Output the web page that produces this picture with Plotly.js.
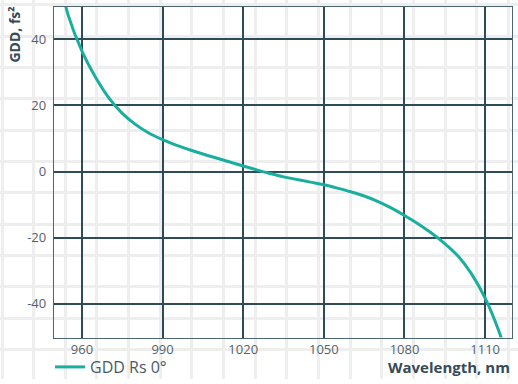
<!DOCTYPE html>
<html>
<head>
<meta charset="utf-8">
<script src="https://cdn.plot.ly/plotly-3.0.1.min.js"></script>
<style>html,body{margin:0;padding:0;background:#fff;}#chart{width:518px;height:384px;}</style>
</head>
<body>
<div id="chart"></div>
<script>
// Wavelength (nm)
const wavelength = [953, 955, 960, 965, 970, 975, 980, 985, 990, 995, 1000, 1005, 1010, 1015, 1020, 1025, 1030, 1035, 1040, 1045, 1050, 1055, 1060, 1065, 1070, 1075, 1080, 1085, 1090, 1095, 1100, 1105, 1110, 1115, 1117];
// GDD (fs^2)
const gdd = [53.5, 47.0, 36.4, 28.6, 22.3, 17.6, 14.2, 11.6, 9.65, 8.0, 6.6, 5.3, 4.1, 2.9, 1.7, 0.5, -0.6, -1.6, -2.4, -3.2, -4.0, -5.0, -6.1, -7.4, -9.0, -11.0, -13.3, -15.8, -18.6, -21.8, -25.6, -31.0, -38.3, -48.0, -53.0];
const xTicks = [960, 990, 1020, 1050, 1080, 1110];
const yTicks = [-40, -20, 0, 20, 40];
const seriesName = "GDD Rs 0°";
const xTitle = "Wavelength, nm";
const yTitle = "GDD, fs²";

const W = 518, H = 384;
const plotL = 54, plotR = 512, plotT = 7, plotB = 342;
const font = "'Open Sans', Lato, sans-serif";
const dark = "#2f4a58";

const traces = [
  { x: [], y: [], xaxis: "x", yaxis: "y", showlegend: false, hoverinfo: "skip", type: "scatter" },
  { x: wavelength, y: gdd, xaxis: "x2", yaxis: "y2", type: "scatter", mode: "lines",
    name: seriesName, line: { color: "#1aae9f", width: 3, shape: "spline", smoothing: 1 } }
];

const layout = {
  width: W, height: H,
  margin: { l: 0, r: 0, t: 0, b: 0 },
  paper_bgcolor: "#ffffff",
  plot_bgcolor: "rgba(0,0,0,0)",
  showlegend: true,
  font: { family: font, color: "#55626b", size: 13 },
  // faint background grid paper
  xaxis: { domain: [0, 1], range: [0, W], tick0: 2, dtick: 31.65, showgrid: true, gridcolor: "#eeeeee", gridwidth: 3,
           showticklabels: false, zeroline: false, showline: false, ticks: "", fixedrange: true },
  yaxis: { domain: [0, 1], range: [H, 0], tick0: 5, dtick: 31.75, showgrid: true, gridcolor: "#eeeeee", gridwidth: 3,
           showticklabels: false, zeroline: false, showline: false, ticks: "", fixedrange: true },
  xaxis2: { domain: [plotL / W, plotR / W], anchor: "y2", range: [949.6, 1120],
            tickmode: "array", tickvals: xTicks, ticktext: xTicks.map(String),
            showgrid: true, gridcolor: dark, gridwidth: 2, zeroline: false,
            showline: true, mirror: true, linecolor: "#4b6572", linewidth: 1.2, ticks: "",
            tickfont: { family: font, size: 13, color: "#55626b" } },
  yaxis2: { domain: [1 - plotB / H, 1 - plotT / H], anchor: "x2", range: [-50.2, 49.8],
            tickmode: "array", tickvals: yTicks, ticktext: yTicks.map(String),
            showgrid: true, gridcolor: dark, gridwidth: 2, zeroline: false,
            showline: true, mirror: true, linecolor: "#4b6572", linewidth: 1.2, ticks: "",
            ticklabelstandoff: 4,
            tickfont: { family: font, size: 13, color: "#55626b" } },
  legend: { orientation: "h", x: 50 / W, y: 1 - 372 / H, xanchor: "left", yanchor: "middle",
            bgcolor: "rgba(0,0,0,0)", font: { family: font, size: 16, color: "#4a5963" } },
  annotations: [
    { text: "<b>" + xTitle + "</b>", xref: "paper", yref: "paper", x: plotR / W, y: 1 - 372 / H,
      xanchor: "right", yanchor: "middle", showarrow: false, font: { family: font, size: 15, color: "#354b57" } },
    { text: "<b>" + yTitle + "</b>", xref: "paper", yref: "paper", x: 15 / W, y: 1 - 35 / H,
      xanchor: "center", yanchor: "middle", textangle: -90, showarrow: false, font: { family: font, size: 14, color: "#354b57" } }
  ]
};

Plotly.newPlot("chart", traces, layout, { displayModeBar: false, staticPlot: true });
</script>
</body>
</html>
